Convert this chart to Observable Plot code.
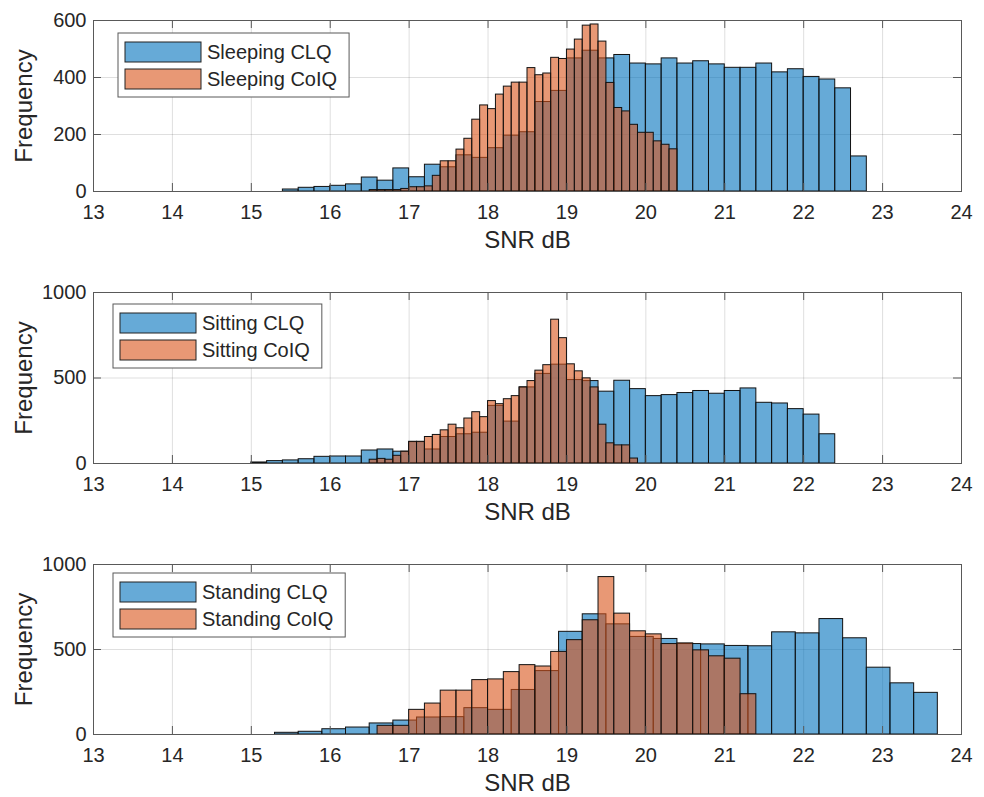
<!DOCTYPE html>
<html>
<head>
<meta charset="utf-8">
<script src="https://cdn.jsdelivr.net/npm/d3@7"></script>
<script src="https://cdn.jsdelivr.net/npm/@observablehq/plot@0.6"></script>
<style>
  body { margin: 0; background: #fff; }
  #chart { width: 984px; height: 797px; position: relative; background: #fff; }
  #chart svg { display: block; }
</style>
</head>
<body>
<div id="chart"></div>
<script>
// ---------- data ----------
const xTicks = [13, 14, 15, 16, 17, 18, 19, 20, 21, 22, 23, 24];
const sleepingYTicks = [0, 200, 400, 600];
const sittingYTicks = [0, 500, 1000];
const standingYTicks = [0, 500, 1000];

// Sleeping: CLQ bins start 15.4, width 0.2 ; CoIQ bins start 16.5, width 0.1
const sleepingCLQStart = 15.4, sleepingCLQWidth = 0.2;
const sleepingCLQ = [7, 13, 16, 20, 25, 49, 38, 81, 50, 94, 85, 127, 118, 152, 196, 208, 314, 353, 467, 494,
  467, 479, 449, 446, 467, 449, 457, 446, 434, 434, 449, 418, 429, 402, 393, 362, 123];
const sleepingCoIQStart = 16.5, sleepingCoIQWidth = 0.1;
const sleepingCoIQ = [5, 5, 5, 5, 9, 15, 15, 18, 55, 106, 106, 147, 185, 252, 302, 289, 340, 368, 382, 382,
  433, 408, 414, 469, 465, 498, 533, 582, 586, 526, 381, 293, 281, 234, 206, 206, 176, 164, 148];

// Sitting: CLQ bins start 15.0, width 0.2 ; CoIQ bins start 16.5, width 0.1
const sittingCLQStart = 15.0, sittingCLQWidth = 0.2;
const sittingCLQ = [6, 14, 18, 25, 39, 41, 41, 76, 82, 69, 125, 82, 155, 171, 180, 337, 245, 445, 524, 578,
  488, 482, 420, 484, 435, 394, 400, 412, 424, 408, 424, 439, 355, 351, 318, 286, 171];
const sittingCoIQStart = 16.5, sittingCoIQWidth = 0.1;
const sittingCoIQ = [22, 27, 22, 45, 69, 127, 127, 155, 167, 194, 227, 206, 263, 300, 271, 365, 347, 376, 394, 445,
  482, 543, 575, 841, 733, 580, 539, 498, 445, 227, 118, 106, 106, 29];

// Standing: CLQ bins start 15.3, width 0.3 ; CoIQ bins start 16.6, width 0.2
const standingCLQStart = 15.3, standingCLQWidth = 0.3;
const standingCLQ = [10, 16, 31, 41, 65, 82, 100, 102, 155, 145, 262, 373, 604, 707, 648, 574, 562, 532, 530, 521,
  519, 601, 595, 679, 566, 393, 301, 245];
const standingCoIQStart = 16.6, standingCoIQWidth = 0.2;
const standingCoIQ = [51, 51, 145, 182, 258, 258, 320, 324, 367, 408, 400, 486, 555, 672, 926, 711, 607, 589, 532, 536,
  495, 460, 446, 237];

const xLabel = "SNR dB";
const yLabel = "Frequency";

// ---------- helpers ----------
function bins(counts, start, width) {
  return counts.map((c, i) => ({
    x1: Math.round((start + i * width) * 1000) / 1000,
    x2: Math.round((start + (i + 1) * width) * 1000) / 1000,
    count: c
  }));
}

const BLUE = "#0072BD";
const ORANGE = "#D95319";
const AXIS = "#595959";
const TEXT = "#262626";
const FONT = "'Liberation Sans', Arial, Helvetica, sans-serif";

const panels = [
  {clq: bins(sleepingCLQ, sleepingCLQStart, sleepingCLQWidth),
   coiq: bins(sleepingCoIQ, sleepingCoIQStart, sleepingCoIQWidth),
   yTicks: sleepingYTicks, names: ["Sleeping CLQ", "Sleeping CoIQ"],
   height: 272, marginBottom: 81, legendX: 118, legendY: 33},
  {clq: bins(sittingCLQ, sittingCLQStart, sittingCLQWidth),
   coiq: bins(sittingCoIQ, sittingCoIQStart, sittingCoIQWidth),
   yTicks: sittingYTicks, names: ["Sitting CLQ", "Sitting CoIQ"],
   height: 272, marginBottom: 81, legendX: 113, legendY: 32},
  {clq: bins(standingCLQ, standingCLQStart, standingCLQWidth),
   coiq: bins(standingCoIQ, standingCoIQStart, standingCoIQWidth),
   yTicks: standingYTicks, names: ["Standing CLQ", "Standing CoIQ"],
   height: 253, marginBottom: 63, legendX: 113, legendY: 29}
];

const container = document.getElementById("chart");

for (const p of panels) {
  const yMax = p.yTicks[p.yTicks.length - 1];
  const xMin = xTicks[0], xMax = xTicks[xTicks.length - 1];
  const chart = Plot.plot({
    width: 984,
    height: p.height,
    marginLeft: 93,
    marginRight: 23,
    marginTop: 20,
    marginBottom: p.marginBottom,
    style: {fontFamily: FONT, fontSize: "20px", color: TEXT, background: "white", overflow: "visible"},
    x: {domain: [xMin, xMax]},
    y: {domain: [0, yMax]},
    marks: [
      Plot.gridX(xTicks, {stroke: TEXT, strokeOpacity: 0.15, strokeWidth: 1}),
      Plot.gridY(p.yTicks, {stroke: TEXT, strokeOpacity: 0.15, strokeWidth: 1}),
      Plot.rectY(p.clq, {x1: "x1", x2: "x2", y: "count", fill: BLUE, fillOpacity: 0.6, stroke: "#111", strokeWidth: 1}),
      Plot.rectY(p.coiq, {x1: "x1", x2: "x2", y: "count", fill: ORANGE, fillOpacity: 0.6, stroke: "#111", strokeWidth: 1}),
      Plot.frame({stroke: AXIS, strokeWidth: 1}),
      // inward ticks (bottom, top, left, right)
      Plot.ruleX(xTicks, {x: d => d, y1: 0, y2: 0, insetTop: -8, stroke: AXIS}),
      Plot.ruleX(xTicks, {x: d => d, y1: yMax, y2: yMax, insetBottom: -8, stroke: AXIS}),
      Plot.ruleY(p.yTicks, {y: d => d, x1: xMin, x2: xMin, insetRight: -8, stroke: AXIS}),
      Plot.ruleY(p.yTicks, {y: d => d, x1: xMax, x2: xMax, insetLeft: -8, stroke: AXIS}),
      Plot.axisX(xTicks, {tickSize: 0, tickPadding: 13, label: null, fontSize: 20, fill: TEXT, tickFormat: d => String(d)}),
      Plot.axisY(p.yTicks, {tickSize: 0, tickPadding: 7, label: null, fontSize: 20, fill: TEXT, tickFormat: d => String(d)}),
      Plot.text([xLabel], {frameAnchor: "bottom", dy: 49, fontSize: 24, fill: TEXT, textAnchor: "middle", lineAnchor: "middle"}),
      Plot.text([yLabel], {frameAnchor: "left", dx: -69, rotate: -90, fontSize: 24, fill: TEXT, textAnchor: "middle", lineAnchor: "middle"})
    ]
  });
  container.appendChild(chart);

  // legend inside the axes
  const svg = d3.select(chart.tagName.toLowerCase() === "svg" ? chart : chart.querySelector("svg"));
  const g = svg.append("g").attr("font-family", FONT).attr("font-size", 20).attr("text-anchor", "start");
  const box = g.append("rect")
    .attr("x", p.legendX).attr("y", p.legendY)
    .attr("height", 64).attr("width", 10)
    .attr("fill", "white").attr("stroke", AXIS).attr("stroke-width", 1);
  let maxW = 0;
  [BLUE, ORANGE].forEach((c, i) => {
    const sy = p.legendY + 9 + i * 27;
    g.append("rect")
      .attr("x", p.legendX + 7).attr("y", sy)
      .attr("width", 76).attr("height", 20)
      .attr("fill", c).attr("fill-opacity", 0.6)
      .attr("stroke", "#222").attr("stroke-width", 1);
    const t = g.append("text")
      .attr("x", p.legendX + 89).attr("y", sy + 10)
      .attr("dy", "0.35em").attr("fill", TEXT)
      .attr("text-anchor", "start")
      .text(p.names[i]);
    maxW = Math.max(maxW, t.node().getComputedTextLength());
  });
  box.attr("width", 89 + maxW + 12);
}
</script>
</body>
</html>
